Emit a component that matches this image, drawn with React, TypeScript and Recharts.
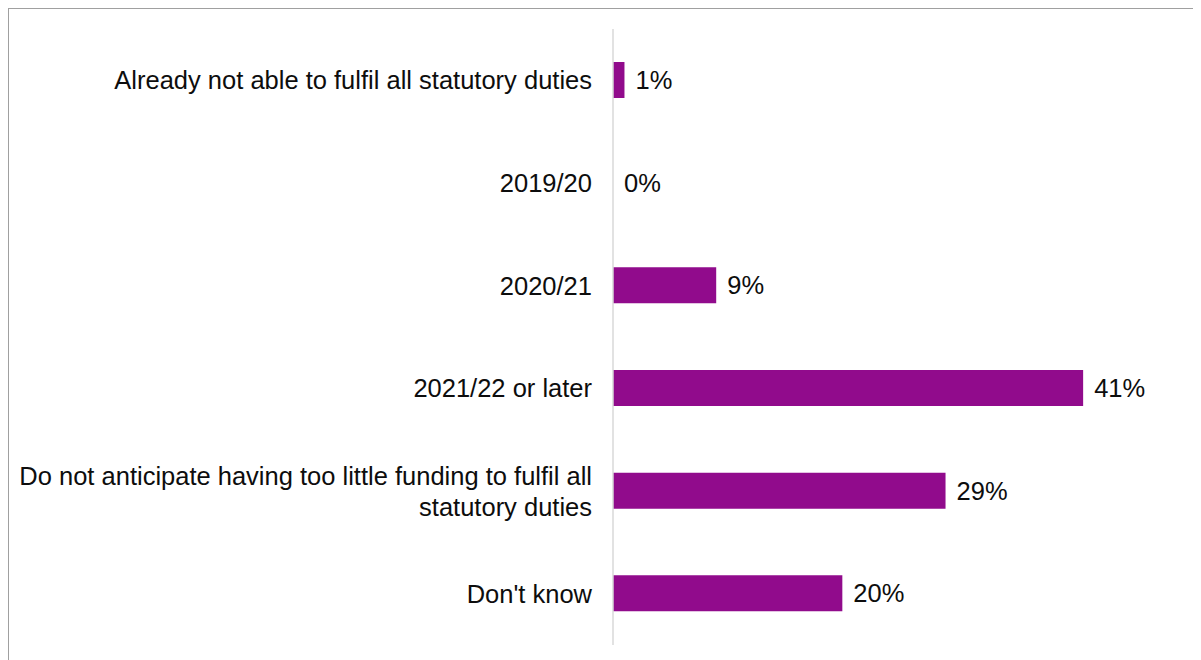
import { BarChart, Bar, XAxis, YAxis, LabelList, Rectangle } from "recharts";

const categories = [
  "Already not able to fulfil all statutory duties",
  "2019/20",
  "2020/21",
  "2021/22 or later",
  "Do not anticipate having too little funding to fulfil all statutory duties",
  "Don't know",
];
const shares = [1, 0, 9, 41, 29, 20];

const data = categories.map((c, i) => ({ category: c, share: shares[i] }));

const FONT = "'Liberation Sans', Arial, sans-serif";
const TEXT = "#0d0d0d";

// greedy word wrap by character count
function wrap(s: string, maxChars = 60) {
  const lines: string[] = [];
  let cur = "";
  for (const w of s.split(" ")) {
    if (cur && (cur + " " + w).length > maxChars) {
      lines.push(cur);
      cur = w;
    } else {
      cur = cur ? cur + " " + w : w;
    }
  }
  if (cur) lines.push(cur);
  return lines;
}

function CategoryTick({ x, y, payload }: any) {
  const lines = wrap(String(payload.value));
  const lh = 31;
  const start = -((lines.length - 1) * lh) / 2;
  return (
    <text
      x={x}
      y={y}
      textAnchor="end"
      fontSize={25.5}
      fontFamily={FONT}
      fill={TEXT}
    >
      {lines.map((l, i) => (
        <tspan key={i} x={x} dy={i === 0 ? start + 9 : lh}>
          {l}
        </tspan>
      ))}
    </text>
  );
}

// zero bars get minPointSize geometry so their label still shows; don't paint them
function BarShape(props: any) {
  if (!props.payload || props.payload.share <= 0) return <g />;
  return <Rectangle {...props} />;
}

function ValueLabel({ x, y, width, height, value }: any) {
  const w = Number(value) > 0 ? Number(width) : 0;
  return (
    <text
      x={Number(x) + w + 11}
      y={Number(y) + Number(height) / 2}
      dy={9}
      fontSize={25.5}
      fontFamily={FONT}
      fill={TEXT}
    >
      {value}%
    </text>
  );
}

export default function App() {
  return (
    <div
      style={{
        position: "relative",
        width: 1193,
        height: 652,
        boxSizing: "border-box",
        borderTop: "1px solid #a0a0a0",
        borderLeft: "1px solid #a0a0a0",
      }}
    >
      <BarChart
        width={1192}
        height={651}
        data={data}
        layout="vertical"
        margin={{ top: 20, right: 72, left: 0, bottom: 15 }}
      >
        <XAxis type="number" domain={[0, 45]} hide />
        <YAxis
          type="category"
          dataKey="category"
          width={604}
          axisLine={{ stroke: "#d9d9d9", strokeWidth: 1.5 }}
          tickLine={false}
          tickSize={0}
          tickMargin={21}
          tick={<CategoryTick />}
          interval={0}
        />
        <Bar
          dataKey="share"
          fill="#910b8c"
          barSize={36}
          minPointSize={1}
          shape={BarShape}
          isAnimationActive={false}
        >
          <LabelList dataKey="share" content={<ValueLabel />} />
        </Bar>
      </BarChart>
    </div>
  );
}
